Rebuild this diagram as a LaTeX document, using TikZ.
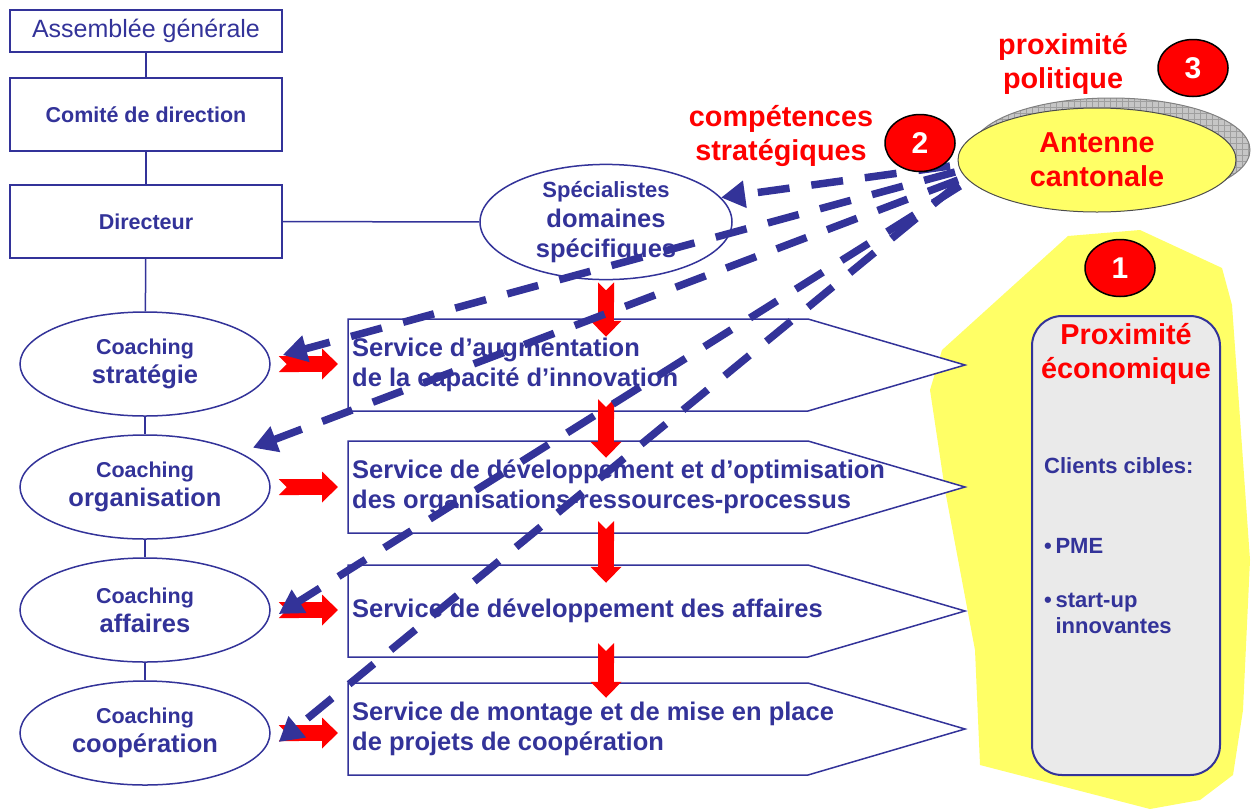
\documentclass[tikz,border=0pt]{standalone}
\usepackage{fontspec}
\setmainfont{Liberation Sans}
\usetikzlibrary{arrows.meta,calc,shapes.geometric,patterns.meta,backgrounds}
\definecolor{navy}{HTML}{333399}
\definecolor{lemon}{HTML}{FFFF66}
\definecolor{boxgray}{HTML}{EAEAEA}
\newcommand\fsz[2]{\fontsize{#1}{#2}\selectfont}
\tikzset{
 orgbox/.style={draw=navy,line width=2pt,fill=white,minimum width=272pt,inner sep=0,text=navy},
 orgline/.style={draw=navy,line width=1.5pt},
 coach/.style={ellipse,draw=navy,line width=1.5pt,fill=white,minimum width=250pt,minimum height=104pt,inner sep=0,text=navy,align=center,font=\bfseries\fsz{25.5}{29}},
 service/.style={anchor=west,minimum height=92pt,inner xsep=4pt,inner ysep=0,text=navy,align=left,font=\bfseries\fsz{25.5}{30}},
 servline/.style={draw=navy,line width=1.5pt,fill=white},
 redarrow/.style={draw=red,line width=16pt,{Triangle Cap[reversed]}-{Triangle[length=16pt,width=30pt]}},
 dashline/.style={draw=navy,line width=7.5pt,dash pattern=on 32pt off 22pt,-{Triangle[length=24pt,width=26pt]}},
 redlabel/.style={text=red,align=center,inner sep=0,font=\bfseries\fsz{28.8}{34}},
 num/.style={ellipse,draw=black,line width=1.5pt,fill=red,text=white,minimum width=70pt,minimum height=57pt,inner sep=0,font=\bfseries\fsz{30}{30}},
 bluetext/.style={text=navy,inner sep=0,anchor=west,align=left,font=\bfseries\fsz{22}{26}}
}
\begin{document}
\begin{tikzpicture}[x=1pt,y=-1pt]
\path[use as bounding box] (0,0) rectangle (1252,809);
% yellow zone behind the clients box
\begin{scope}[on background layer]
\fill[lemon] (1068,236) -- (1140,230) -- (1222,268) -- (1232,305) -- (1250,560) -- (1243,710)
 -- (1233,775) -- (1200,800) -- (1150,809) -- (980,765) -- (975,650) -- (945,490) -- (930,390) -- (942,350) -- cycle;
\end{scope}
% hierarchy
\node[orgbox,minimum height=42pt,font=\fsz{25}{28}] (ag) at (146,31) {Assemblée générale};
\node[orgbox,minimum height=73pt,font=\bfseries\fsz{21.5}{26}] (cd) at (146,114.5) {Comité de direction};
\node[orgbox,minimum height=73pt,font=\bfseries\fsz{21.5}{26}] (dir) at (146,221.5) {Directeur};
\node[coach] (coachS) at (145,364) {{\fsz{21.5}{29}Coaching}\\stratégie};
\node[coach] (coachO) at (145,487) {{\fsz{21.5}{29}Coaching}\\organisation};
\node[coach] (coachF) at (145,610) {{\fsz{21.5}{29}Coaching}\\affaires};
\node[coach] (coachC) at (145,733) {{\fsz{21.5}{29}Coaching}\\coopération};
\node[coach,minimum width=252pt,font=\bfseries\fsz{25.5}{30}] (spec) at (606,222) {{\fsz{22}{30}Spécialistes}\\domaines\\spécifiques};
\draw[orgline] (ag) -- (cd);
\draw[orgline] (cd) -- (dir);
\draw[orgline] (dir) -- (coachS);
\draw[orgline] (coachS) -- (coachO);
\draw[orgline] (coachO) -- (coachF);
\draw[orgline] (coachF) -- (coachC);
\draw[orgline] (dir) -- (spec);
% services
\node[service] (s1) at (348,365) {Service d’augmentation\\de la capacité d’innovation};
\node[service] (s2) at (348,487) {Service de développement et d’optimisation\\des organisations-ressources-processus};
\node[service] (s3) at (348,611) {Service de développement des affaires};
\node[service] (s4) at (348,729) {Service de montage et de mise en place\\de projets de coopération};
\begin{scope}[on background layer]
\foreach \s in {s1,s2,s3,s4}
 \draw[servline] ($(\s.west)+(0,-46)$) -- ++(460,0) -- ($(\s.west)+(617,0)$) -- ($(\s.west)+(460,46)$) -- ($(\s.west)+(0,46)$) -- cycle;
\end{scope}
\draw[redarrow] ([yshift=-2pt]spec.south) -- ($(spec.south |- s1.north)+(0,18)$);
\draw[redarrow] ($(spec |- s1.south)+(0,-12)$) -- ($(spec |- s2.north)+(0,17)$);
\draw[redarrow] ($(spec |- s2.south)+(0,-12)$) -- ($(spec |- s3.north)+(0,18)$);
\draw[redarrow] ($(spec |- s3.south)+(0,-14)$) -- ($(spec |- s4.north)+(0,15)$);
\foreach \c/\s in {coachS/s1,coachO/s2,coachF/s3,coachC/s4}
 \draw[redarrow] ([xshift=8pt]\c.east) -- ([xshift=-10pt]\c.east -| \s.west);
% clients
\node[draw=navy,line width=2pt,fill=boxgray,rounded corners=30pt,minimum width=188pt,minimum height=459pt] (prox) at (1126,545.5) {};
\node[redlabel,anchor=north] (proxT) at ([yshift=-8pt]prox.north) {Proximité\\économique};
\node[bluetext] (clients) at ([shift={(13,151)}]prox.north west) {Clients cibles:};
\node[bluetext] (pme) at ([shift={(13,231)}]prox.north west) {•\,PME};
\node[bluetext] (startup) at ([shift={(13,298)}]prox.north west) {•\,start-up\\\phantom{•\,}innovantes};
% cantonal office
\node[ellipse,draw=gray,line width=1pt,minimum width=278pt,minimum height=104pt,
 preaction={fill=gray!45},pattern={Hatch[distance=6pt,angle=0,line width=.5pt]},pattern color=gray!75] (antShadow) at (1111,150) {};
\node[ellipse,draw=gray!60!black,line width=1pt,fill=lemon,minimum width=278pt,minimum height=104pt,inner sep=0,
 redlabel] (ant) at (1097,160) {Antenne\\cantonale};
\node[redlabel] (comp) at (781,136) {compétences\\stratégiques};
\node[redlabel] (poli) at (1063,64) {proximité\\politique};
% know-how flows
\coordinate (src1) at (950,166);
\coordinate (src2) at (955,172);
\coordinate (src3) at (958,180);
\coordinate (src4) at (960,186);
\coordinate (src5) at (958,184);
\draw[dashline] (src1) -- (spec.12);
\draw[dashline] (src2) -- ([shift={(12,-9)}]coachS.east);
\draw[dashline] (src3) -- ([shift={(19,-2)}]coachO.north east);
\draw[dashline] (src4) -- ([shift={(8,4)}]coachF.east);
\draw[dashline] (src5) -- ([shift={(8,9)}]coachC.east);
\node[num] (n1) at (1120,268) {1};
\node[num] (n2) at (920,143) {2};
\node[num] (n3) at (1193,68) {3};
\end{tikzpicture}
\end{document}
